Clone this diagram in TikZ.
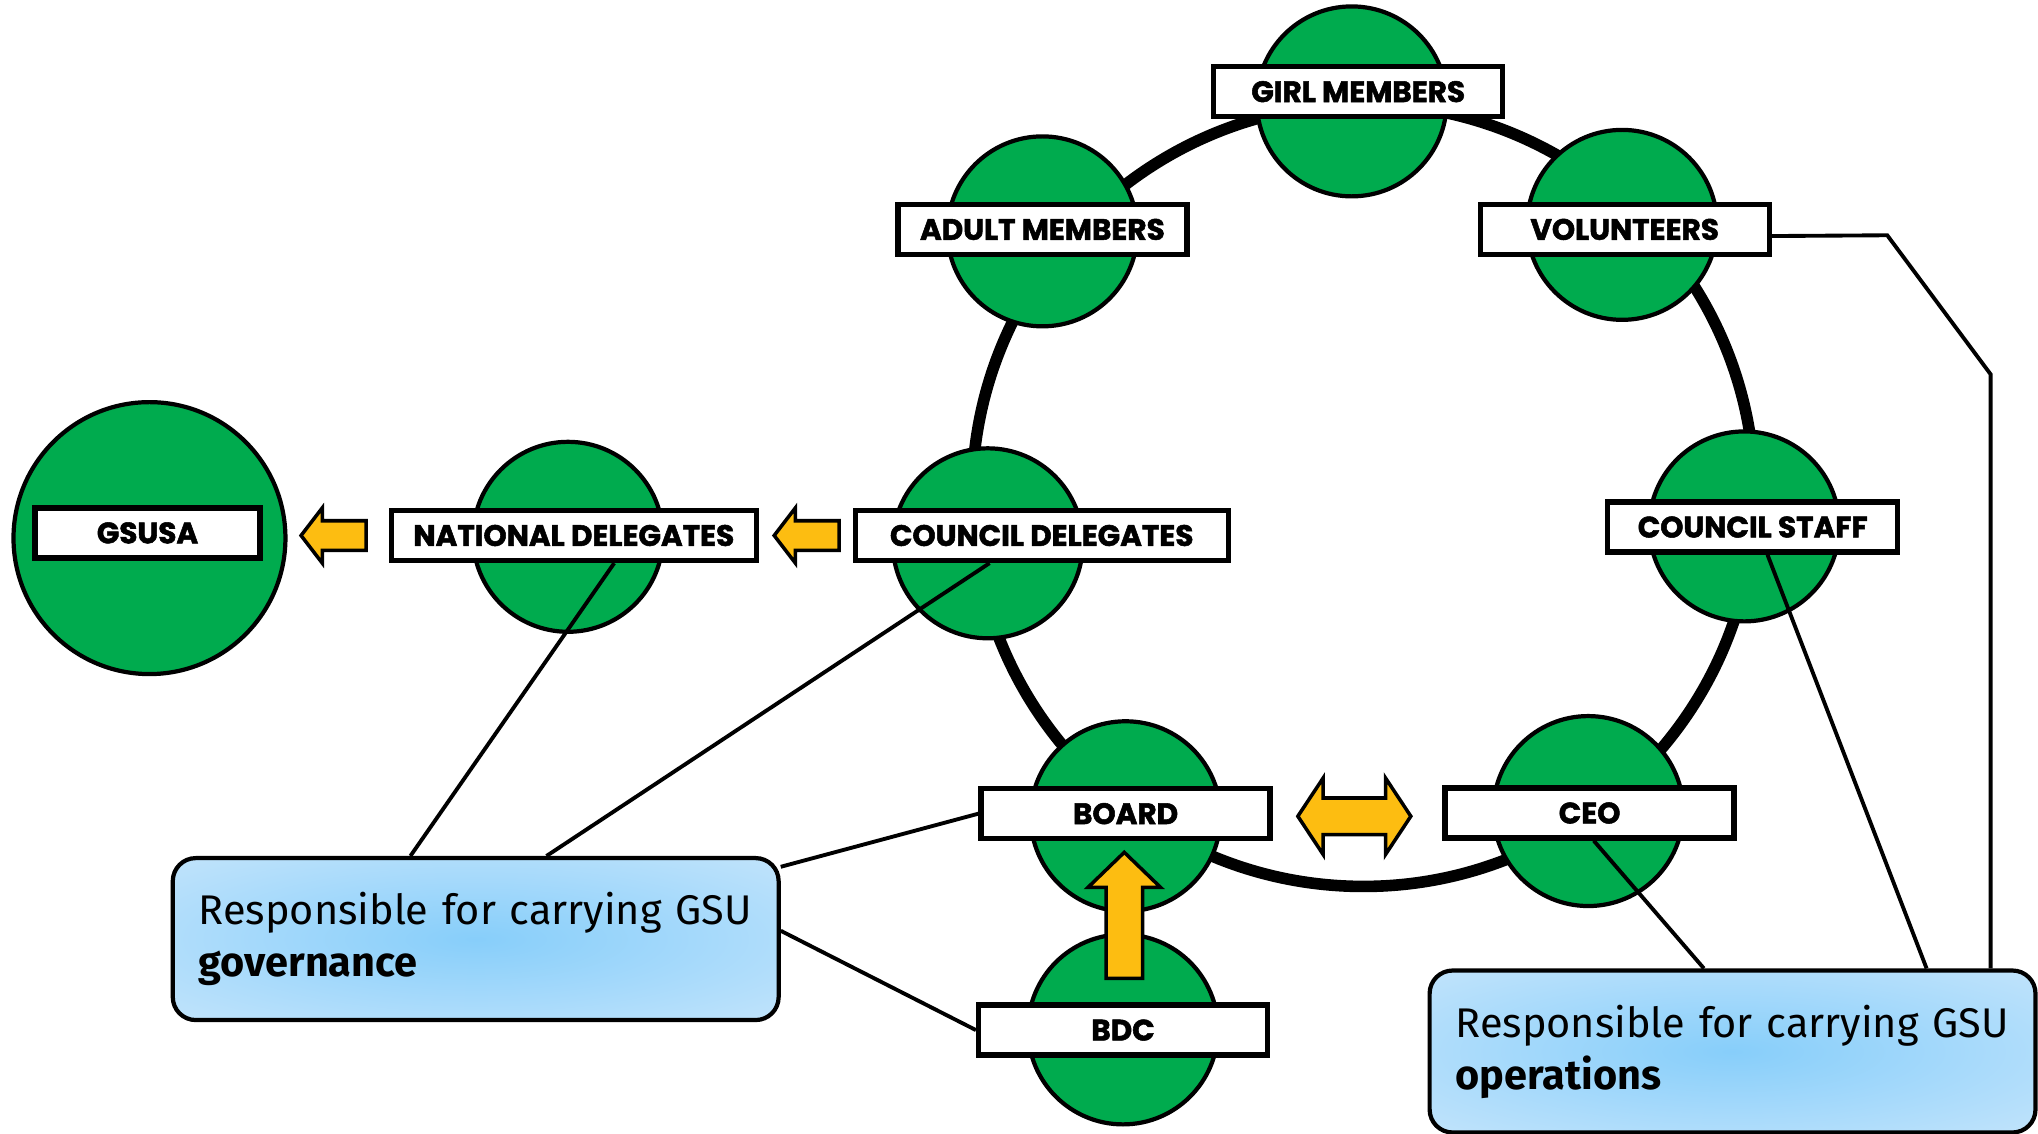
\documentclass[tikz,border=0pt]{standalone}
\usepackage{fontspec}
\setmainfont{Fira Sans}
\newfontfamily\tagfont{Poppins}[BoldFeatures={FakeBold=1.8}]
\usetikzlibrary{shapes.arrows,calc}
\definecolor{gsgreen}{RGB}{0,171,78}
\definecolor{gsyellow}{RGB}{253,189,17}
\definecolor{skyin}{RGB}{135,206,250}
\definecolor{skyout}{RGB}{216,236,252}
\pgfdeclareradialshading{skyglow}{\pgfpoint{0bp}{0bp}}{color(0bp)=(skyin); color(50bp)=(skyout); color(100bp)=(skyout)}
\tikzset{
  disc/.style={circle,draw,line width=1.2pt,fill=gsgreen,inner sep=0pt},
  tag/.style={rectangle,draw,line width=1.5pt,fill=white,minimum height=0.5cm,inner sep=0pt,
    font=\tagfont\bfseries\fontsize{8.4}{9}\selectfont},
  flow/.style={draw,line width=1pt,fill=gsyellow},
  note/.style={rectangle,rounded corners=0.23cm,draw,line width=1.2pt,shading=skyglow,
    minimum height=1.62cm,text width=5.54cm,inner xsep=0.26cm,align=left,
    font=\fontsize{11.8}{14.8}\selectfont},
  link/.style={line width=1.1pt},
  ring/.style={line width=3.3pt}
}
\begin{document}
\begin{tikzpicture}[x=0.013cm,y=-0.013cm]
\useasboundingbox (0,0) rectangle (1568,872);
\draw[ring] (1049,381) circle [radius=301];
\foreach \n/\x/\y/\d in {girl/1040/78/1.9, adult/802/178/1.9, vol/1248/173/1.9, cdel/760/418/1.9,
    staff/1342/405/1.9, natl/437/413/1.9, gsusa/115/414/2.72, board/866/628/1.9, ceo/1222/624/1.9, bdc/864/792/1.9}
  \node[disc,minimum size=\d cm] (c-\n) at (\x,\y) {};
\coordinate (v1) at (0,288);
\coordinate (v2) at (1452,181);
\node[note] (gov) at (366,722.5) {Responsible for carrying GSU\\\textbf{governance}};
\node[note] (ops) at (1333,809) {Responsible for carrying GSU\\\textbf{operations}};
\foreach \n/\x/\y/\w/\t in {girl/1045/70.5/2.89/GIRL MEMBERS, adult/802/176.5/2.89/ADULT MEMBERS,
    vol/1250/176.5/2.89/VOLUNTEERS, cdel/801.5/412/3.73/COUNCIL DELEGATES, natl/441.5/412/3.65/NATIONAL DELEGATES,
    gsusa/113.5/410/2.25/GSUSA, staff/1348.5/405.5/2.9/COUNCIL STAFF, board/866/626/2.89/BOARD,
    ceo/1223/625.5/2.89/CEO, bdc/864/792.5/2.89/BDC}
  \node[tag,minimum width=\w cm] (\n) at (\x,\y) {\t};
\draw[link] ($(gov.north west)!.393!(gov.north east)$) -- ($(natl.south west)!.609!(natl.south east)$);
\draw[link] ($(gov.north west)!.616!(gov.north east)$) -- ($(cdel.south west)!.362!(cdel.south east)$);
\draw[link] ($(gov.north east)!.065!(gov.south east)$) -- (board.west);
\draw[link] ($(gov.north east)!.45!(gov.south east)$) -- (bdc.west);
\draw[link] ($(ops.north west)!.453!(ops.north east)$) -- ($(ceo.south west)!.514!(ceo.south east)$);
\draw[link] ($(ops.north west)!.818!(ops.north east)$) -- ($(staff.south west)!.55!(staff.south east)$);
\draw[link] ($(ops.north west)!.923!(ops.north east)$) coordinate (v0) -- (v0 |- v1) -- (v2)
  -- ($(vol.north east)!.62!(vol.south east)$);
\node[flow,single arrow,shape border rotate=180,minimum height=0.65cm,inner sep=0.13cm,
  single arrow head extend=0.13cm,single arrow tip angle=105] (a-gsusa) at (261,412) {};
\node[flow,single arrow,shape border rotate=180,minimum height=0.65cm,inner sep=0.13cm,
  single arrow head extend=0.13cm,single arrow tip angle=105] (a-natl) at (625,412) {};
\node[flow,double arrow,minimum height=1.13cm,inner sep=0.165cm,
  double arrow head extend=0.2cm,double arrow tip angle=113] (a-board) at (1042,628) {};
\node[flow,single arrow,shape border rotate=90,minimum height=1.26cm,inner sep=0.165cm,
  single arrow head extend=0.18cm,single arrow tip angle=92] (a-bdc) at (865,711) {};
\end{tikzpicture}
\end{document}
